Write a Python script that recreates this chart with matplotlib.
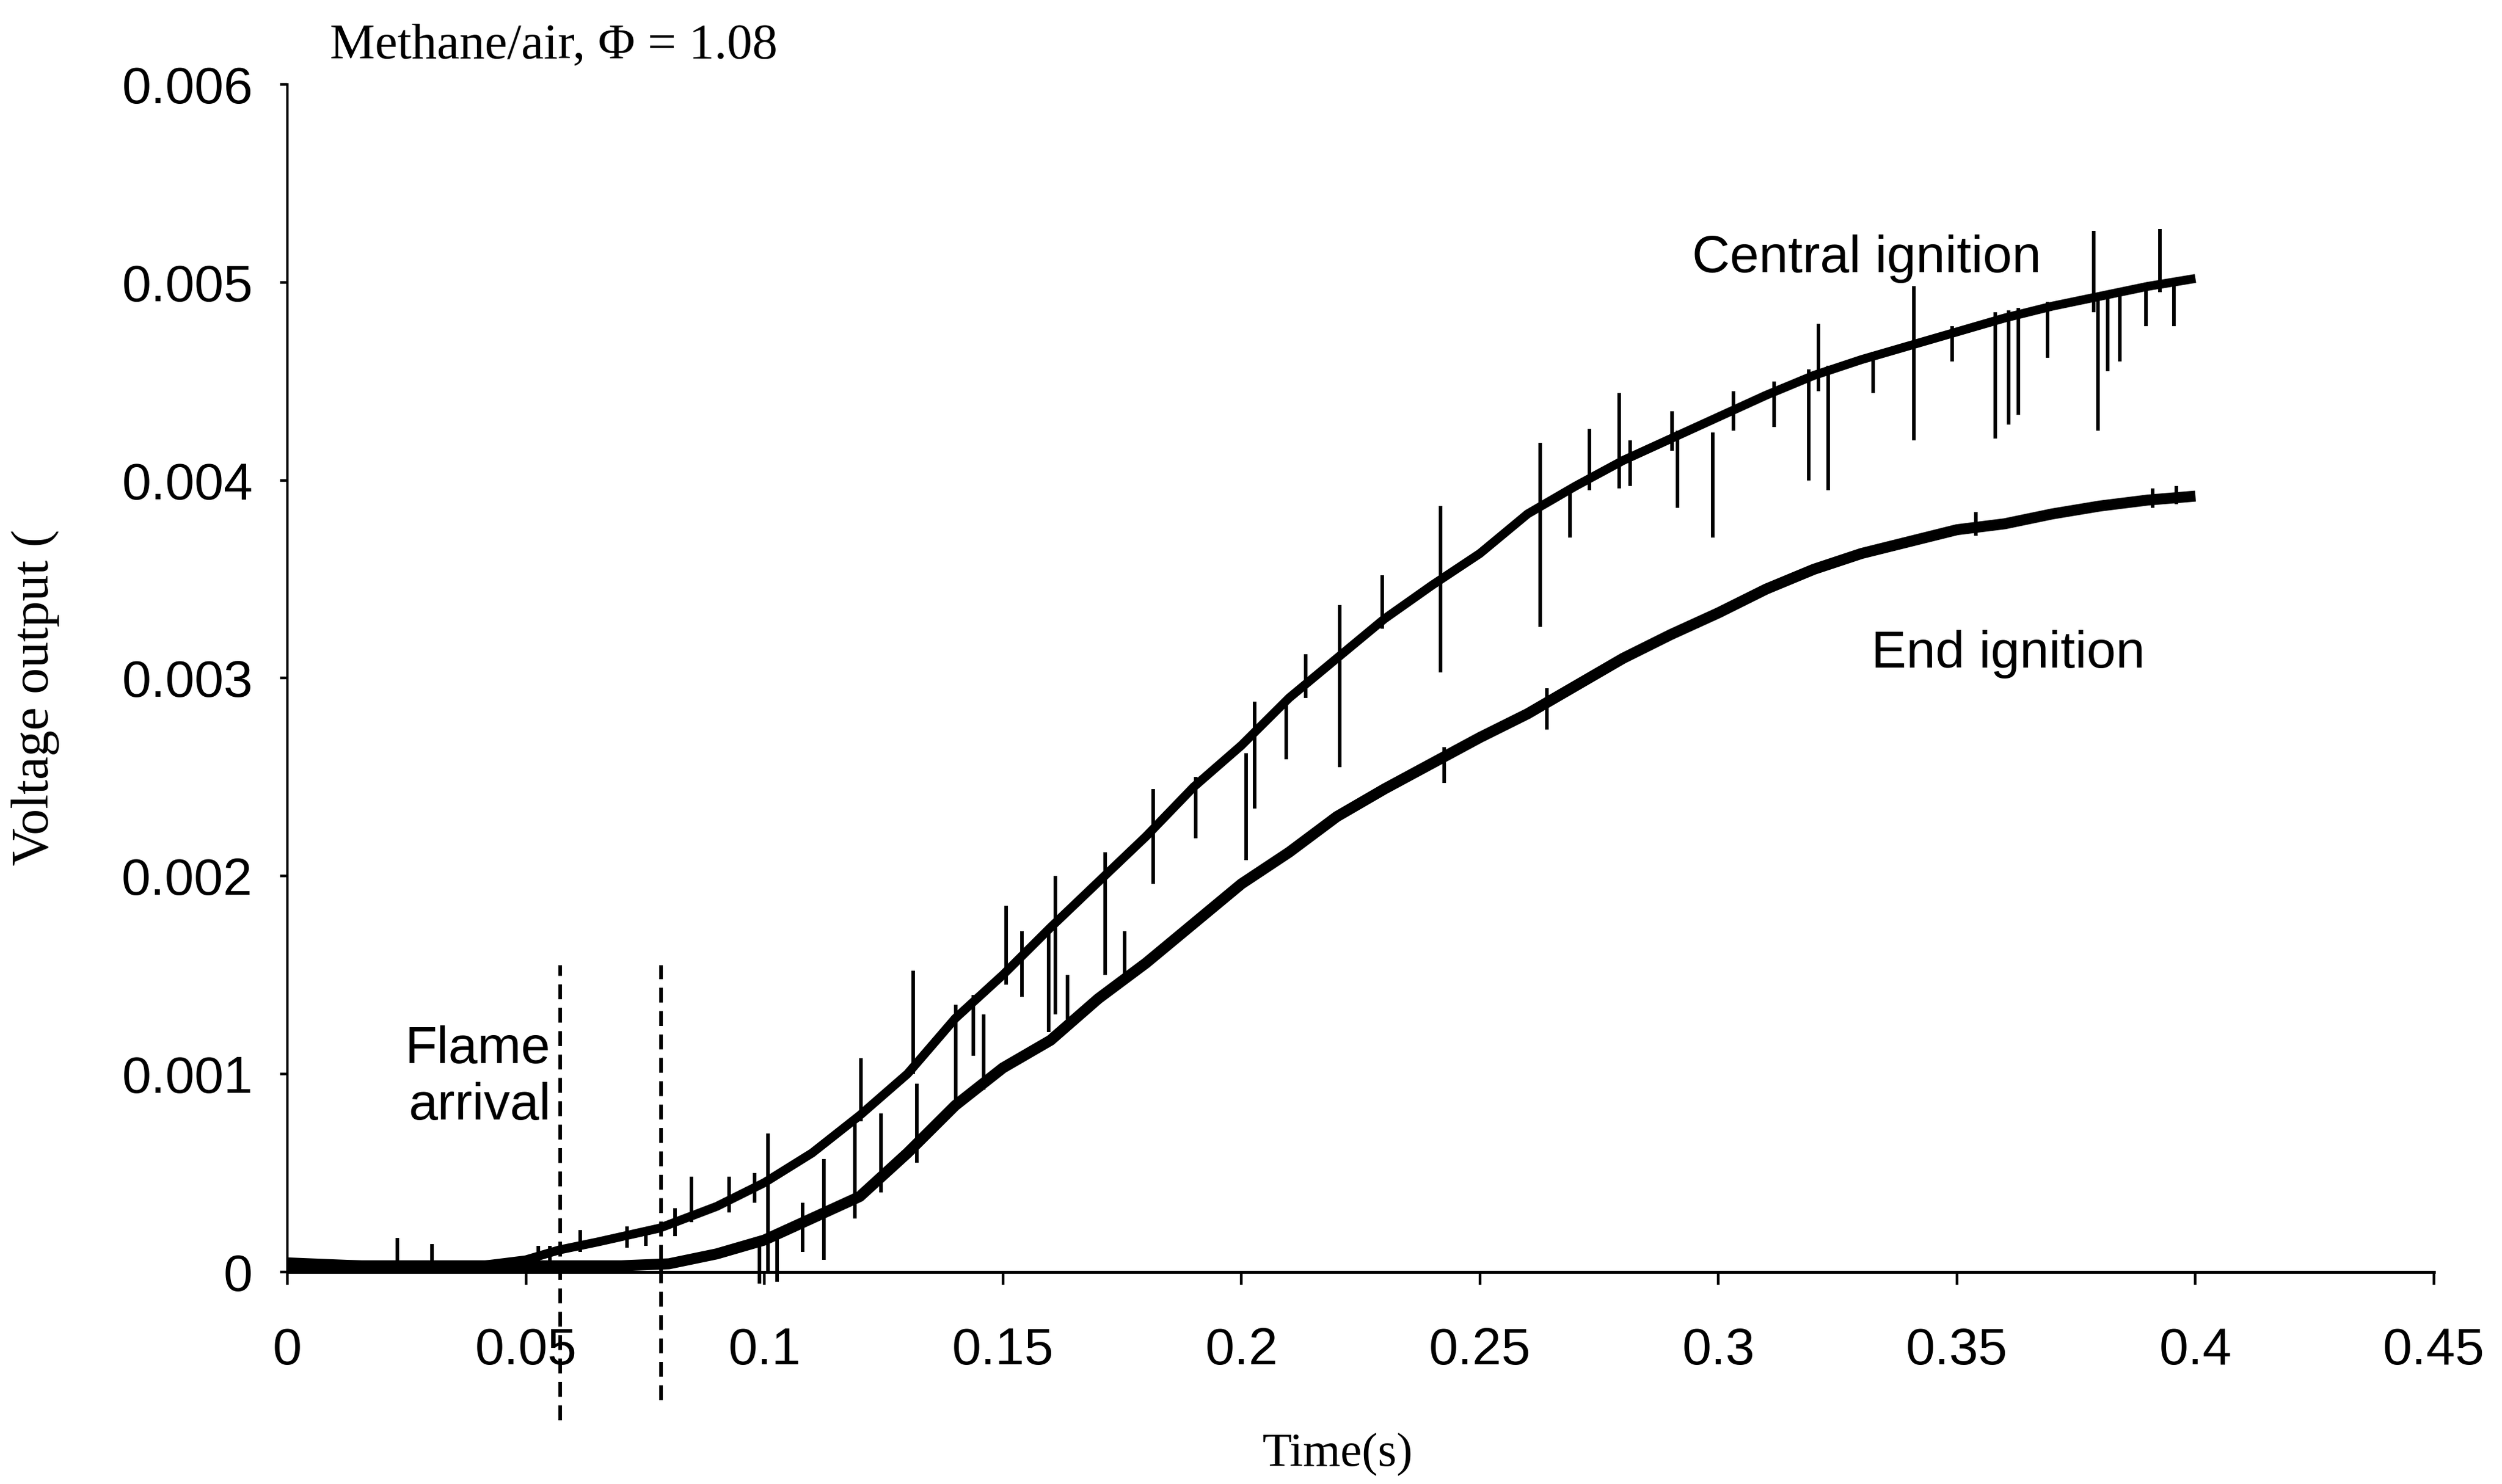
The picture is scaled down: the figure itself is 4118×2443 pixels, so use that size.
import numpy as np
import matplotlib
matplotlib.use("Agg")
import matplotlib.pyplot as plt

# ---------------- data ----------------
# Central ignition (upper trace), voltage in 1e-3 units
t_central = [0.0, 0.01, 0.02, 0.03, 0.04, 0.05, 0.057, 0.065, 0.078, 0.09, 0.10,
             0.11, 0.12, 0.13, 0.14, 0.15, 0.16, 0.17, 0.18, 0.19, 0.20, 0.21,
             0.22, 0.23, 0.24, 0.25, 0.26, 0.27, 0.28, 0.29, 0.30, 0.31, 0.32,
             0.33, 0.34, 0.35, 0.36, 0.37, 0.38, 0.39, 0.40]
v_central = [0.05, 0.04, 0.03, 0.03, 0.03, 0.06, 0.11, 0.15, 0.22, 0.33, 0.45,
             0.60, 0.79, 1.00, 1.28, 1.50, 1.74, 1.97, 2.20, 2.45, 2.66, 2.90,
             3.10, 3.30, 3.47, 3.63, 3.83, 3.97, 4.10, 4.21, 4.32, 4.43, 4.53,
             4.61, 4.68, 4.75, 4.82, 4.88, 4.93, 4.98, 5.02]

# End ignition (lower trace), voltage in 1e-3 units
t_end = [0.0, 0.01, 0.02, 0.03, 0.04, 0.05, 0.06, 0.07, 0.08, 0.09, 0.10,
         0.11, 0.12, 0.13, 0.14, 0.15, 0.16, 0.17, 0.18, 0.19, 0.20, 0.21,
         0.22, 0.23, 0.24, 0.25, 0.26, 0.27, 0.28, 0.29, 0.30, 0.31, 0.32,
         0.33, 0.34, 0.35, 0.36, 0.37, 0.38, 0.39, 0.40]
v_end = [0.03, 0.03, 0.03, 0.03, 0.03, 0.03, 0.03, 0.03, 0.04, 0.09, 0.16,
         0.27, 0.38, 0.60, 0.84, 1.03, 1.17, 1.38, 1.56, 1.76, 1.96, 2.12,
         2.30, 2.44, 2.57, 2.70, 2.82, 2.96, 3.10, 3.22, 3.33, 3.45, 3.55,
         3.63, 3.69, 3.75, 3.78, 3.83, 3.87, 3.90, 3.92]

# Spikes of the central trace: time, low end, high end (1e-3 V)
spike_t_central = [0.023, 0.0303, 0.0526, 0.055, 0.0614, 0.0712, 0.0752, 0.0813,
                   0.0847, 0.0926, 0.098, 0.1007, 0.1125, 0.119, 0.1202, 0.1312,
                   0.1401, 0.1438, 0.1507, 0.154, 0.1596, 0.161, 0.1714, 0.1815,
                   0.1904, 0.201, 0.2028, 0.2094, 0.2135, 0.2206, 0.2295, 0.2418,
                   0.2626, 0.2689, 0.2729, 0.2792, 0.2815, 0.2903, 0.2914, 0.2988,
                   0.3031, 0.3117, 0.319, 0.321, 0.323, 0.3324, 0.341, 0.349,
                   0.358, 0.3609, 0.3629, 0.369, 0.3787, 0.3796, 0.3816, 0.3842,
                   0.3896, 0.3926, 0.3955]
spike_lo_central = [0.02, 0.02, 0.03, 0.03, 0.10, 0.12, 0.13, 0.18, 0.25, 0.30,
                    0.35, 0.00, 0.06, 0.27, 0.76, 1.00, 0.87, 1.09, 1.45, 1.39,
                    1.21, 1.30, 1.50, 1.96, 2.19, 2.08, 2.34, 2.59, 2.90, 2.55,
                    3.25, 3.03, 3.26, 3.71, 3.95, 3.96, 3.97, 4.15, 3.86, 3.71,
                    4.25, 4.27, 4.00, 4.45, 3.95, 4.44, 4.20, 4.60, 4.21, 4.28,
                    4.33, 4.62, 4.85, 4.25, 4.55, 4.60, 4.78, 4.95, 4.78]
spike_hi_central = [0.17, 0.14, 0.13, 0.13, 0.21, 0.23, 0.22, 0.32, 0.48, 0.48,
                    0.50, 0.70, 0.57, 0.76, 1.08, 1.52, 1.35, 1.40, 1.85, 1.72,
                    1.75, 2.00, 2.12, 2.44, 2.50, 2.62, 2.88, 2.90, 3.12, 3.37,
                    3.52, 3.87, 4.19, 3.95, 4.26, 4.44, 4.20, 4.35, 4.25, 4.24,
                    4.45, 4.50, 4.56, 4.79, 4.58, 4.65, 4.98, 4.78, 4.85, 4.86,
                    4.87, 4.90, 5.26, 4.92, 4.93, 4.94, 5.00, 5.27, 5.02]

# Spikes of the end trace: time, low end, high end (1e-3 V)
spike_t_end = [0.099, 0.1027, 0.108, 0.1245, 0.132, 0.146, 0.1636, 0.1755,
               0.2425, 0.264, 0.354, 0.391, 0.396]
spike_lo_end = [-0.06, -0.05, 0.10, 0.40, 0.55, 0.92, 1.22, 1.45,
                2.47, 2.74, 3.72, 3.86, 3.88]
spike_hi_end = [0.15, 0.18, 0.35, 0.80, 0.95, 1.30, 1.50, 1.72,
                2.65, 2.95, 3.84, 3.96, 3.97]

# Flame-arrival markers (time, bottom, top in 1e-3 V)
flame_t = [0.0572, 0.0783]
flame_bottom = [-0.75, -0.65]
flame_top = [1.55, 1.55]

x_ticks = [0.0, 0.05, 0.10, 0.15, 0.20, 0.25, 0.30, 0.35, 0.40, 0.45]
x_tick_labels = ['0', '0.05', '0.1', '0.15', '0.2', '0.25', '0.3', '0.35', '0.4', '0.45']
y_ticks = [0.0, 0.001, 0.002, 0.003, 0.004, 0.005, 0.006]
y_tick_labels = ['0', '0.001', '0.002', '0.003', '0.004', '0.005', '0.006']

# ---------------- figure ----------------
W, H, DPI = 4118, 2443, 100
fig = plt.figure(figsize=(W / DPI, H / DPI), dpi=DPI, facecolor='white')
ax = fig.add_axes([0.11486, 0.14306, 0.85794, 0.79996])

sans = 'Liberation Sans'
serif = 'Liberation Serif'
k = 1e-3

ax.plot(t_end, np.array(v_end) * k, color='black', lw=13, solid_capstyle='butt',
        solid_joinstyle='round', clip_on=False, zorder=3)
ax.plot(t_central, np.array(v_central) * k, color='black', lw=10.5,
        solid_capstyle='butt', solid_joinstyle='round', clip_on=False, zorder=3)
ax.vlines(spike_t_central, np.array(spike_lo_central) * k, np.array(spike_hi_central) * k,
          color='black', lw=4.2, clip_on=False, zorder=3)
ax.vlines(spike_t_end, np.array(spike_lo_end) * k, np.array(spike_hi_end) * k,
          color='black', lw=4.2, clip_on=False, zorder=3)

for t, b, tp in zip(flame_t, flame_bottom, flame_top):
    ax.plot([t, t], [b * k, tp * k], color='black', lw=4.2,
            dashes=(4.2, 2.4), clip_on=False, zorder=2)

ax.set_xlim(0, 0.45)
ax.set_ylim(0, 0.006)
ax.set_xticks(x_ticks)
ax.set_xticklabels(x_tick_labels)
ax.set_yticks(y_ticks)
ax.set_yticklabels(y_tick_labels)

for s in ['top', 'right']:
    ax.spines[s].set_visible(False)
ax.spines['left'].set_linewidth(2.8)
ax.spines['bottom'].set_linewidth(3.6)
ax.tick_params(axis='x', direction='out', length=15, width=3.2, pad=50,
               labelsize=62)
ax.tick_params(axis='y', direction='out', length=9, width=3.2, pad=32,
               labelsize=62)
for lab in ax.get_xticklabels() + ax.get_yticklabels():
    lab.set_fontfamily(sans)

# annotations
ax.text(0.0552, 0.00098, 'Flame\narrival', fontsize=62, fontfamily=sans,
        ha='right', va='center', multialignment='right', linespacing=1.2)
ax.text(0.2945, 0.00512, 'Central ignition', fontsize=62, fontfamily=sans,
        ha='left', va='center')
ax.text(0.332, 0.00312, 'End ignition', fontsize=62, fontfamily=sans,
        ha='left', va='center')

fig.text(0.1319, 0.969, 'Methane/air, \u03a6 = 1.08', fontsize=60,
         fontfamily=serif, ha='left', va='center')
fig.text(0.5345, 0.0197, 'Time(s)', fontsize=57, fontfamily=serif,
         ha='center', va='center')
fig.text(0.0141, 0.530, 'Voltage output (', fontsize=62, fontfamily=serif,
         ha='center', va='center', rotation=90)

fig.savefig('out.png', dpi=DPI, facecolor='white')
